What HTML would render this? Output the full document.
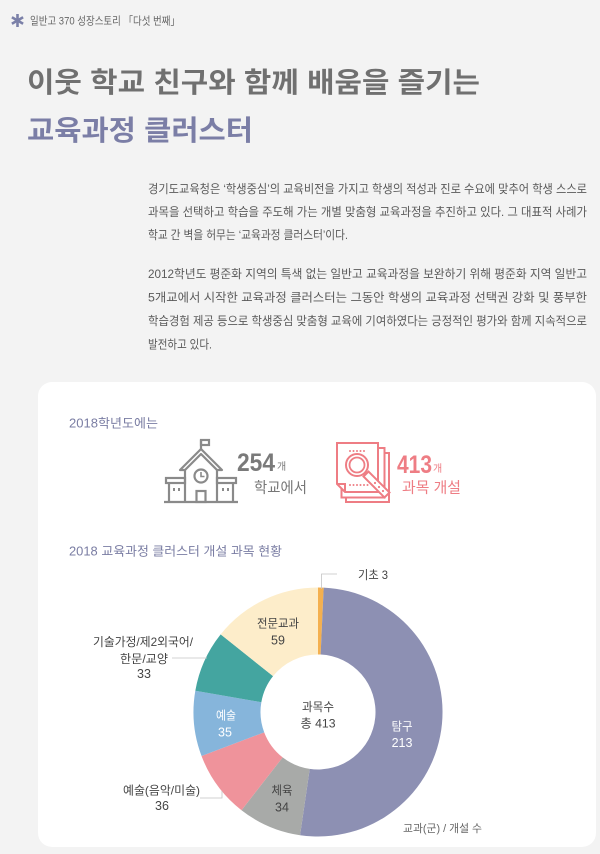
<!DOCTYPE html>
<html>
<head>
<meta charset="utf-8">
<style>
html,body{margin:0;padding:0;background:#f3f3f3;}
svg{display:block;}
text{font-family:"Liberation Sans","Noto Sans CJK KR",sans-serif;}
</style>
</head>
<body>
<svg width="600" height="854" viewBox="0 0 600 854" xmlns="http://www.w3.org/2000/svg">
  <rect x="0" y="0" width="600" height="854" fill="#f3f3f3"/>

  <!-- header -->
  <g stroke="#7b80a8" stroke-width="2.6">
    <line x1="17.5" y1="14" x2="17.5" y2="27"/>
    <line x1="11.9" y1="17.3" x2="23.1" y2="23.7"/>
    <line x1="11.9" y1="23.7" x2="23.1" y2="17.3"/>
  </g>
  <text x="30" y="24.5" font-size="11" fill="#666" textLength="150" lengthAdjust="spacingAndGlyphs">일반고 370 성장스토리 「다섯 번째」</text>

  <!-- title -->
  <text x="27" y="92" font-size="28" font-weight="700" fill="#707070" textLength="453" lengthAdjust="spacingAndGlyphs">이웃 학교 친구와 함께 배움을 즐기는</text>
  <text x="27" y="140" font-size="28" font-weight="700" fill="#7b7ea6" textLength="226" lengthAdjust="spacingAndGlyphs">교육과정 클러스터</text>

  <!-- paragraphs -->
  <g font-size="12" fill="#5a5a5a">
    <text x="148" y="193" textLength="439" lengthAdjust="spacingAndGlyphs">경기도교육청은 ‘학생중심’의 교육비전을 가지고 학생의 적성과 진로 수요에 맞추어 학생 스스로</text>
    <text x="148" y="216" textLength="439" lengthAdjust="spacingAndGlyphs">과목을 선택하고 학습을 주도해 가는 개별 맞춤형 교육과정을 추진하고 있다. 그 대표적 사례가</text>
    <text x="148" y="239" textLength="200" lengthAdjust="spacingAndGlyphs">학교 간 벽을 허무는 ‘교육과정 클러스터’이다.</text>
    <text x="148" y="278" textLength="439" lengthAdjust="spacingAndGlyphs">2012학년도 평준화 지역의 특색 없는 일반고 교육과정을 보완하기 위해 평준화 지역 일반고</text>
    <text x="148" y="301.5" textLength="439" lengthAdjust="spacingAndGlyphs">5개교에서 시작한 교육과정 클러스터는 그동안 학생의 교육과정 선택권 강화 및 풍부한</text>
    <text x="148" y="325" textLength="439" lengthAdjust="spacingAndGlyphs">학습경험 제공 등으로 학생중심 맞춤형 교육에 기여하였다는 긍정적인 평가와 함께 지속적으로</text>
    <text x="148" y="348.5" textLength="64" lengthAdjust="spacingAndGlyphs">발전하고 있다.</text>
  </g>

  <!-- card -->
  <rect x="38" y="382" width="558" height="465" rx="14" ry="14" fill="#ffffff"/>

  <text x="69" y="427.5" font-size="12.5" fill="#7a7da3" textLength="89" lengthAdjust="spacingAndGlyphs">2018학년도에는</text>

  <!-- school icon -->
  <g fill="none" stroke="#8a8a8a" stroke-width="2.2">
    <line x1="201" y1="440" x2="201" y2="450"/>
    <rect x="201" y="440" width="8" height="5"/>
    <path d="M180 470 L201 449 L222 470 L217 470 L201 454 L185 470 Z" stroke-linejoin="round"/>
    <line x1="185" y1="469" x2="185" y2="502"/>
    <line x1="217" y1="469" x2="217" y2="502"/>
    <circle cx="201" cy="476" r="6.5"/>
    <path d="M201 472 V476.5 H204.5" stroke-width="1.6"/>
    <rect x="196.5" y="491" width="9" height="11"/>
    <rect x="166" y="478" width="19" height="5"/>
    <line x1="169" y1="483" x2="169" y2="502"/>
    <rect x="217" y="478" width="19" height="5"/>
    <line x1="233" y1="483" x2="233" y2="502"/>
    <line x1="164" y1="502" x2="238" y2="502"/>
  </g>
  <g fill="#8a8a8a">
    <rect x="173" y="488" width="2" height="3"/>
    <rect x="178" y="488" width="2" height="3"/>
    <rect x="222" y="488" width="2" height="3"/>
    <rect x="227" y="488" width="2" height="3"/>
  </g>

  <text x="237" y="471" font-size="25" font-weight="700" fill="#7a7a7a" textLength="38" lengthAdjust="spacingAndGlyphs">254</text>
  <text x="277" y="470" font-size="10" fill="#7a7a7a">개</text>
  <text x="254" y="492.5" font-size="15" fill="#777" textLength="53" lengthAdjust="spacingAndGlyphs">학교에서</text>

  <!-- document icon -->
  <g stroke="#ee7d84" stroke-width="2" fill="#ffffff">
    <rect x="346" y="453" width="43" height="49"/>
    <rect x="341.5" y="448" width="43" height="49.5"/>
    <path d="M337 443 H378 V492 H345 L337 484 Z"/>
    <path d="M337 484 H345 V492" fill="none"/>
  </g>
  <g fill="#ee7d84">
    <circle cx="350" cy="451" r="1"/><circle cx="353.5" cy="451" r="1"/><circle cx="357" cy="451" r="1"/><circle cx="360.5" cy="451" r="1"/><circle cx="364" cy="451" r="1"/>
    <circle cx="350" cy="485" r="1"/><circle cx="353.5" cy="485" r="1"/><circle cx="357" cy="485" r="1"/><circle cx="360.5" cy="485" r="1"/><circle cx="364" cy="485" r="1"/><circle cx="367.5" cy="485" r="1"/>
  </g>
  <g stroke="#ee7d84" stroke-width="2" fill="#ffffff">
    <polygon points="363.5,476.5 368.5,471.5 389.5,492.5 384.5,497.5"/>
    <circle cx="357" cy="465" r="11"/>
    <circle cx="357" cy="465" r="7.5" stroke-width="1.8"/>
  </g>
  <g fill="#ee7d84">
    <circle cx="375" cy="483" r="1.1"/><circle cx="379" cy="487" r="1.1"/><circle cx="383" cy="491" r="1.1"/>
  </g>

  <text x="397" y="473" font-size="25" font-weight="700" fill="#ee7d84" textLength="35" lengthAdjust="spacingAndGlyphs">413</text>
  <text x="433" y="472" font-size="10" fill="#ee7d84">개</text>
  <text x="402" y="492.5" font-size="15" fill="#ee7d84" textLength="59" lengthAdjust="spacingAndGlyphs">과목 개설</text>

  <text x="69" y="555.5" font-size="12.5" fill="#7a7da3" textLength="213" lengthAdjust="spacingAndGlyphs">2018 교육과정 클러스터 개설 과목 현황</text>

  <!-- donut -->
  <path d="M318 587.5 A124.5 124.5 0 0 1 323.68 587.63 L320.62 654.56 A57.5 57.5 0 0 0 318 654.5 Z" fill="#f4b04f"/>
  <path d="M323.68 587.63 A124.5 124.5 0 1 1 300.07 835.20 L309.72 768.90 A57.5 57.5 0 1 0 320.62 654.56 Z" fill="#8d90b3"/>
  <path d="M300.07 835.20 A124.5 124.5 0 0 1 241.49 810.22 L282.67 757.36 A57.5 57.5 0 0 0 309.72 768.90 Z" fill="#a8aaa8"/>
  <path d="M241.49 810.22 A124.5 124.5 0 0 1 201.54 756.01 L264.21 732.32 A57.5 57.5 0 0 0 282.67 757.36 Z" fill="#ef939b"/>
  <path d="M201.54 756.01 A124.5 124.5 0 0 1 195.32 690.79 L261.34 702.20 A57.5 57.5 0 0 0 264.21 732.32 Z" fill="#86b5db"/>
  <path d="M195.32 690.79 A124.5 124.5 0 0 1 220.68 634.36 L273.05 676.14 A57.5 57.5 0 0 0 261.34 702.20 Z" fill="#44a5a0"/>
  <path d="M220.68 634.36 A124.5 124.5 0 0 1 318 587.5 L318 654.5 A57.5 57.5 0 0 0 273.05 676.14 Z" fill="#fdedca"/>

  <!-- leader lines -->
  <g fill="none" stroke="#c4c4c4" stroke-width="0.8">
    <polyline points="321.5,589 321.5,574 337,574"/>
    <line x1="172" y1="658" x2="207" y2="658"/>
    <polyline points="200,798 222,798 222,791"/>
  </g>

  <!-- labels -->
  <g font-size="12" fill="#444">
    <text x="358" y="579" textLength="30" lengthAdjust="spacingAndGlyphs">기초 3</text>
    <text x="278" y="627.5" text-anchor="middle" textLength="42" lengthAdjust="spacingAndGlyphs">전문교과</text>
    <text x="278" y="644.5" text-anchor="middle" font-size="12.5">59</text>
    <text x="93" y="646" textLength="100" lengthAdjust="spacingAndGlyphs">기술가정/제2외국어/</text>
    <text x="120" y="663" textLength="48" lengthAdjust="spacingAndGlyphs">한문/교양</text>
    <text x="144" y="678" text-anchor="middle" font-size="12.5">33</text>
    <text x="318" y="711" text-anchor="middle" textLength="32" lengthAdjust="spacingAndGlyphs">과목수</text>
    <text x="318" y="727.5" text-anchor="middle" textLength="35" lengthAdjust="spacingAndGlyphs">총 413</text>
    <text x="282" y="794.5" text-anchor="middle" textLength="21" lengthAdjust="spacingAndGlyphs">체육</text>
    <text x="282" y="811.5" text-anchor="middle" font-size="12.5">34</text>
    <text x="123" y="794.5" textLength="77" lengthAdjust="spacingAndGlyphs">예술(음악/미술)</text>
    <text x="162" y="810" text-anchor="middle" font-size="12.5">36</text>
  </g>
  <g font-size="12" fill="#ffffff">
    <text x="226" y="719.5" text-anchor="middle" textLength="20" lengthAdjust="spacingAndGlyphs">예술</text>
    <text x="225" y="736.5" text-anchor="middle" font-size="12.5">35</text>
    <text x="402" y="730.5" text-anchor="middle" textLength="21" lengthAdjust="spacingAndGlyphs">탐구</text>
    <text x="402" y="747" text-anchor="middle" font-size="12.5">213</text>
  </g>
  <text x="403" y="832" font-size="11" fill="#666" textLength="79" lengthAdjust="spacingAndGlyphs">교과(군) / 개설 수</text>
</svg>
</body>
</html>
